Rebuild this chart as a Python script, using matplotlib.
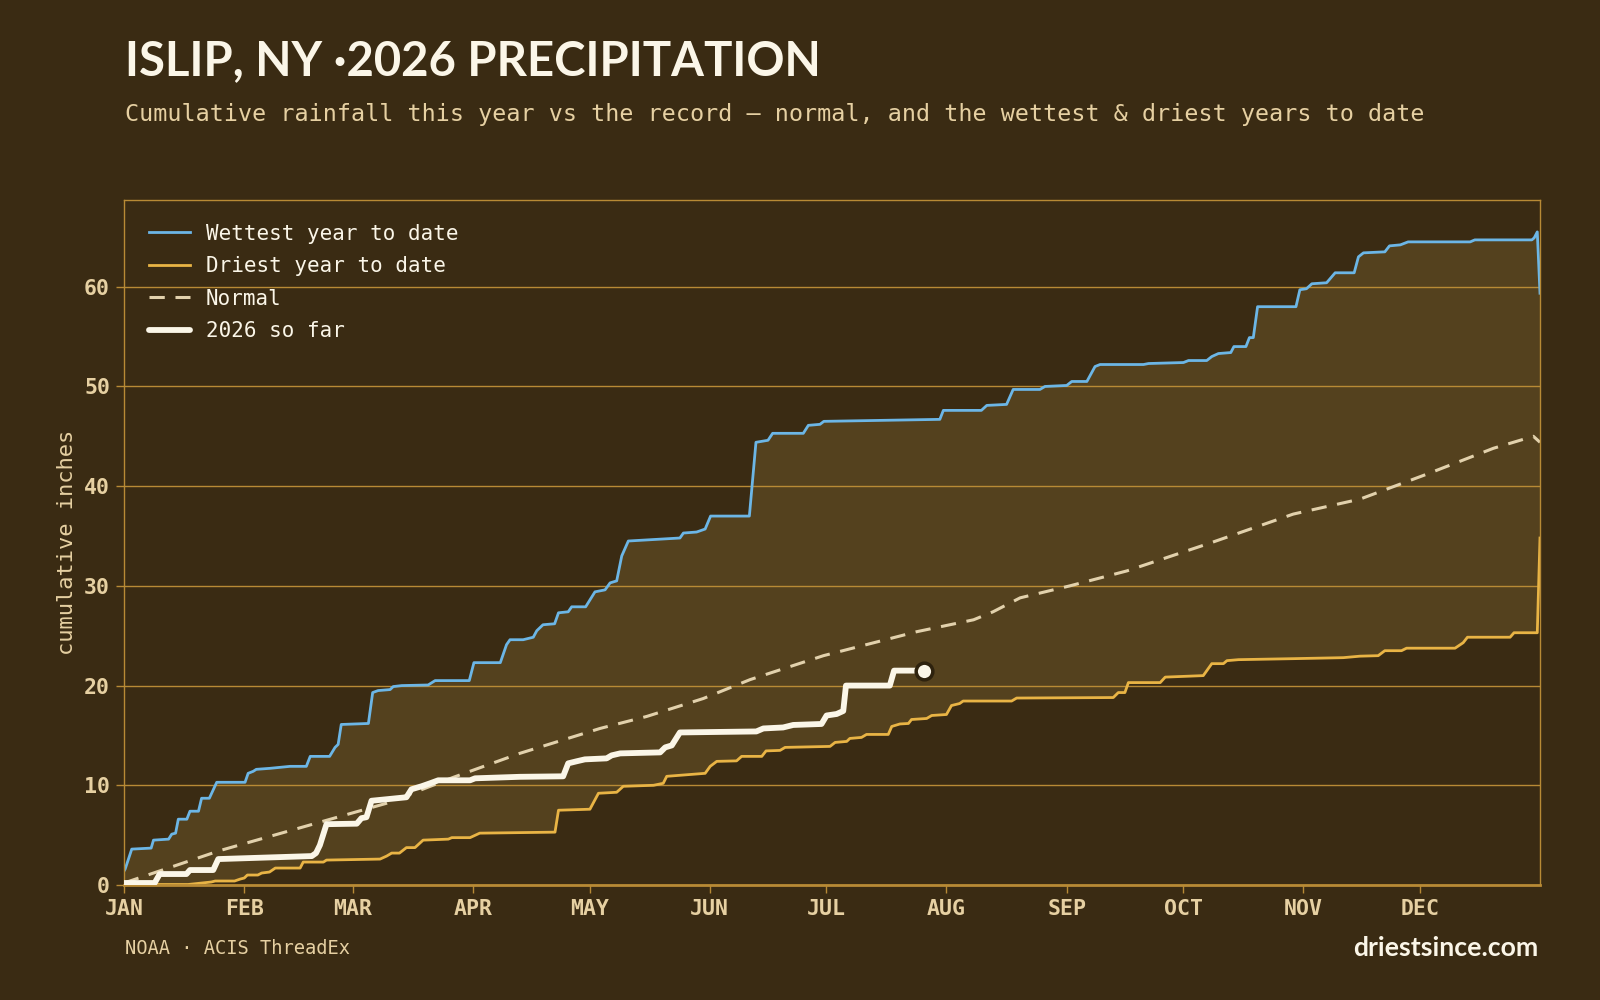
import matplotlib
matplotlib.use("Agg")
import matplotlib.pyplot as plt
import numpy as np

# ---------------- data (day of year, cumulative inches) ----------------
wet_days = [0, 0.3, 2, 7, 7.6, 11.5, 12.3, 13.3, 14, 16.2, 17, 19.2, 20, 22, 23.9, 31.2, 32, 33.3,
            34.1, 37.6, 42.8, 47, 48, 53, 54.4, 55.2, 56, 63, 64.1, 65.5, 68.6, 69.4, 71.6, 78.4,
            80.2, 89, 90.2, 97, 98.6, 99.5, 102.9, 105.5, 106.4, 108, 111, 112, 114.5, 115.4, 119,
            121.4, 124, 125.3, 127, 128.3, 130, 143.3, 144.2, 147.6, 149.8, 151.2, 161.2, 162.9,
            166, 167.2, 175.1, 176.4, 179.4, 180.4, 210.3, 211.2, 221, 222.4, 227.5, 229.2, 236.1,
            237.4, 243, 244.3, 248.2, 250.3, 251.6, 262.8, 264.1, 273.1, 274.4, 279.1, 280.4,
            282.1, 285.3, 286.1, 289.2, 290.1, 291.1, 292.2, 302.1, 303.1, 304.8, 306.2, 310,
            312.2, 317.1, 318.2, 319.5, 325, 326.2, 329, 331, 347, 348.2, 362.9, 363.5, 364.3, 365]
wet_vals = [1.4, 1.6, 3.6, 3.7, 4.5, 4.6, 5.1, 5.2, 6.6, 6.6, 7.4, 7.4, 8.7, 8.7, 10.3, 10.3, 11.2, 11.4,
            11.6, 11.7, 11.9, 11.9, 12.9, 12.9, 13.8, 14.1, 16.1, 16.2, 19.3, 19.5, 19.6, 19.9,
            20.0, 20.06, 20.5, 20.5, 22.3, 22.3, 24.1, 24.6, 24.6, 24.85, 25.5, 26.1, 26.2, 27.3,
            27.4, 27.9, 27.9, 29.4, 29.6, 30.3, 30.5, 33.0, 34.5, 34.8, 35.3, 35.4, 35.7, 37.0,
            37.0, 44.4, 44.6, 45.3, 45.3, 46.1, 46.2, 46.5, 46.7, 47.6, 47.6, 48.1, 48.2, 49.7,
            49.7, 50.0, 50.1, 50.5, 50.5, 52.0, 52.2, 52.2, 52.3, 52.4, 52.6, 52.6, 53.0, 53.3,
            53.4, 54.0, 54.0, 54.9, 54.9, 58.0, 58.0, 59.7, 59.8, 60.3, 60.4, 61.4, 61.4, 63.0,
            63.4, 63.5, 64.1, 64.2, 64.5, 64.5, 64.7, 64.7, 64.9, 65.5, 59.35]

dry_days = [0, 16.5, 22.5, 23.5, 28.5, 30, 31, 31.8, 34.5, 35.5, 37.5, 39, 45.4, 46.2, 51.4, 52.2, 66,
            67.7, 69, 71, 72.8, 75, 77.1, 83.6, 84.5, 89.2, 91.7, 111.1, 112, 120.1, 122.3, 127,
            128.7, 136.5, 139, 139.9, 149.8, 151.1, 152.8, 157.9, 159.2, 164.4, 165.5, 169.1,
            170.4, 182, 183.3, 186.3, 187.1, 190.1, 191.4, 197, 197.9, 200, 202.2, 203, 206.9,
            208.2, 212, 213.3, 215.4, 216.3, 228.8, 230.1, 255, 256.3, 258, 258.9, 267.1, 268.4,
            278.2, 280.4, 283.4, 284.3, 287.3, 301.4, 314.3, 318.6, 323.3, 325, 329.3, 330.6,
            343.1, 345.2, 346.3, 357.3, 358.3, 364.3, 365]
dry_vals = [0.05, 0.05, 0.3, 0.4, 0.4, 0.6, 0.7, 1.0, 1.0, 1.2, 1.3, 1.7, 1.7, 2.3, 2.3, 2.5, 2.6,
            2.9, 3.2, 3.2, 3.75, 3.75, 4.5, 4.6, 4.75, 4.75, 5.2, 5.3, 7.5, 7.6, 9.2, 9.3, 9.9,
            10.0, 10.2, 10.9, 11.2, 11.9, 12.4, 12.45, 12.9, 12.9, 13.45, 13.5, 13.8, 13.9, 14.3,
            14.4, 14.7, 14.8, 15.1, 15.1, 15.9, 16.15, 16.2, 16.6, 16.7, 17.0, 17.1, 18.0, 18.2,
            18.45, 18.45, 18.75, 18.8, 19.3, 19.3, 20.3, 20.3, 20.85, 21.0, 22.2, 22.2, 22.5,
            22.6, 22.7, 22.8, 22.95, 23.0, 23.5, 23.5, 23.75, 23.75, 24.3, 24.85, 24.85, 25.3,
            25.3, 34.8]

norm_days = [0, 24.7, 50.5, 67.7, 84.9, 102, 122.7, 134.7, 149.3, 161.4, 180.3, 204.3, 219, 224,
             231, 243.8, 258.5, 280, 301.4, 318.6, 335.8, 353, 363.3, 365]
norm_vals = [0.2, 3.45, 6.3, 8.2, 10.8, 13.2, 15.7, 16.9, 18.7, 20.6, 23.0, 25.4, 26.6, 27.4,
             28.8, 30.0, 31.5, 34.3, 37.2, 38.7, 41.2, 43.8, 45.0, 44.4]

cur_days = [0, 7.9, 9.2, 16.1, 17, 23, 24.3, 48.4, 49.5, 50.5, 52.2, 60, 61.2, 62.5, 63.8, 67.7,
            72.8, 74.1, 76.7, 78.9, 81, 89.2, 90.5, 102, 113.2, 114.5, 116.6, 118.8, 124.4, 125.7,
            127.9, 138.2, 139.5, 141.2, 143.3, 163, 164.8, 169.9, 172.5, 179.8, 181.1, 183.7,
            185.4, 186.1, 197.4, 198.5, 206.2]
cur_vals = [0.2, 0.2, 1.1, 1.1, 1.5, 1.5, 2.6, 2.9, 3.2, 4.0, 6.1, 6.15, 6.7, 6.8, 8.45, 8.6, 8.8,
            9.6, 9.9, 10.2, 10.5, 10.5, 10.7, 10.85, 10.9, 12.2, 12.4, 12.6, 12.7, 13.0, 13.2,
            13.3, 13.8, 14.0, 15.3, 15.4, 15.7, 15.8, 16.05, 16.15, 17.0, 17.15, 17.45, 20.0,
            20.0, 21.5, 21.5]

month_starts = [0, 31, 59, 90, 120, 151, 181, 212, 243, 273, 304, 334]
month_labels = ["JAN", "FEB", "MAR", "APR", "MAY", "JUN", "JUL", "AUG", "SEP", "OCT", "NOV", "DEC"]
y_ticks = [0, 10, 20, 30, 40, 50, 60]

title = "ISLIP, NY \u00b72026 PRECIPITATION"
subtitle = "Cumulative rainfall this year vs the record \u2014 normal, and the wettest & driest years to date"
source = "NOAA \u00b7 ACIS ThreadEx"
brand = "driestsince.com"

# ---------------- style ----------------
BG = "#3a2b13"
FILL = "#54411e"
GOLD = "#b88a35"
TAN = "#e6d0a2"
CREAM = "#fbf6e8"
BLUE = "#6cb6e6"
DRY = "#e9b445"
NORM = "#e2d1ac"
MONO = "DejaVu Sans Mono"

fig = plt.figure(figsize=(16, 10), dpi=100, facecolor=BG)
ax = fig.add_axes([0.0775, 0.115, 0.885, 0.685])
ax.set_facecolor(BG)

all_days = np.union1d(wet_days, dry_days)
wet_i = np.interp(all_days, wet_days, wet_vals)
dry_i = np.interp(all_days, dry_days, dry_vals)
ax.fill_between(all_days, dry_i, wet_i, color=FILL, lw=0, zorder=0.3)

ax.plot(wet_days, wet_vals, color=BLUE, lw=2.0, zorder=2, label="Wettest year to date")
ax.plot(dry_days, dry_vals, color=DRY, lw=2.0, zorder=2, label="Driest year to date")
ax.plot(norm_days, norm_vals, color=NORM, lw=2.2, ls=(0, (5, 3.5)), zorder=2.1, label="Normal")
ax.plot(cur_days, cur_vals, color=CREAM, lw=4.2, solid_capstyle="round", solid_joinstyle="round",
        zorder=3, label="2026 so far")
ax.plot(cur_days[-1:], cur_vals[-1:], marker="o", ms=12, mfc=CREAM, mec="#2e220e", mew=2.5,
        zorder=4, ls="none")

ax.set_xlim(0, 365)
ax.set_ylim(0, 68.7)
ax.set_axisbelow(True)
ax.yaxis.grid(True, color=GOLD, lw=1.0, zorder=0.5)
ax.xaxis.grid(False)

ax.set_xticks(month_starts)
ax.set_xticklabels(month_labels)
ax.set_yticks(y_ticks)
for lab in ax.get_xticklabels() + ax.get_yticklabels():
    lab.set_fontfamily(MONO)
    lab.set_fontweight("bold")
    lab.set_fontsize(15.5)
    lab.set_color(TAN)
ax.tick_params(axis="both", colors=GOLD, length=6, width=1.0, pad=4)
ax.tick_params(axis="x", labelcolor=TAN)
ax.tick_params(axis="y", labelcolor=TAN)
for s in ax.spines.values():
    s.set_color(GOLD)
    s.set_linewidth(1.0)
ax.spines["bottom"].set_linewidth(2.0)

ax.set_ylabel("cumulative inches", fontfamily=MONO, fontsize=15.8, color=TAN, labelpad=5)

leg = ax.legend(loc="upper left", frameon=False, prop={"family": MONO, "size": 15},
                labelcolor=CREAM, handlelength=1.97, handletextpad=0.74, labelspacing=0.6,
                borderaxespad=0.4, bbox_to_anchor=(0.006, 0.99))

fig.text(0.078, 0.939, title, fontfamily="Lato", fontweight="bold", fontsize=34, color=CREAM,
         va="center", ha="left")
fig.text(0.078, 0.885, subtitle, fontfamily=MONO, fontsize=16.85, color=TAN, va="center", ha="left")
fig.text(0.078, 0.052, source, fontfamily=MONO, fontsize=13.5, color=TAN, va="center", ha="left")
fig.text(0.9615, 0.052, brand, fontfamily="Lato", fontweight="bold", fontsize=19.2, color=CREAM,
         va="center", ha="right")

fig.savefig("out.png", dpi=100, facecolor=BG)
